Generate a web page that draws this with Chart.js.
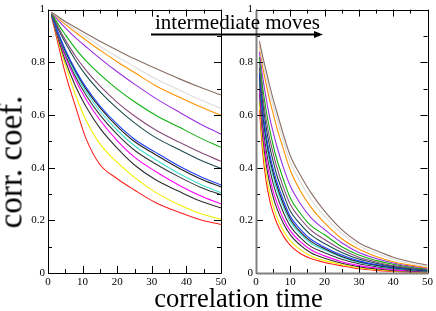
<!DOCTYPE html>
<html lang="en">
<head>
<meta charset="UTF-8">
<title>corr. coef.</title>
<script src="https://cdn.jsdelivr.net/npm/chart.js"></script>
<style>
    body { margin: 0; background: #fff; }
    #wrap { position: relative; width: 436px; height: 311px; overflow: hidden; font-family: "Liberation Serif", serif; color: #000; }
    canvas { position: absolute; left: 0; top: 0; }
    .txt { position: absolute; white-space: nowrap; line-height: 1; }
    #ytitle { font-size: 33px; left: 11px; top: 161.5px; transform: translate(-50%, -50%) rotate(-90deg); }
    #xtitle { font-size: 26.5px; left: 238.5px; top: 284.8px; transform: translateX(-50%); }
    #moves { font-size: 21px; left: 155px; top: 11.5px; }
    #arrow { position: absolute; left: 0; top: 0; }
</style>
</head>
<body>
<div id="wrap">
    <canvas id="leftChart" width="436" height="311"></canvas>
    <canvas id="rightChart" width="436" height="311"></canvas>
    <div class="txt" id="ytitle">corr. coef.</div>
    <div class="txt" id="xtitle">correlation time</div>
    <div class="txt" id="moves">intermediate moves</div>
    <svg id="arrow" width="436" height="311">
        <line x1="151" y1="34.5" x2="316" y2="34.5" stroke="#000" stroke-width="2"/>
        <polygon points="323,34.5 314,31 314,38" fill="#000"/>
    </svg>
</div>

<script>
    // line colours, same order in both panels (top curve first)
    const colors = ['#8b6f66', '#dcdcdc', '#ff9200', '#9b30e0', '#10b010', '#874b7a', '#1b4b4b',
                    '#2040ff', '#202020', '#40e0d0', '#383838', '#ff00ff', '#303030', '#f0f000', '#ff2020'];

    // left panel: correlation time and curves
    const leftT = [1, 3, 5, 8, 11, 15, 20, 25, 31, 38, 44, 50];
    const leftBrown   = [0.99, 0.972, 0.955, 0.932, 0.909, 0.88, 0.846, 0.813, 0.777, 0.737, 0.705, 0.676];
    const leftGrey    = [0.99, 0.969, 0.95, 0.922, 0.896, 0.862, 0.821, 0.783, 0.738, 0.694, 0.658, 0.625];
    const leftOrange  = [0.99, 0.966, 0.944, 0.913, 0.884, 0.846, 0.802, 0.761, 0.712, 0.667, 0.631, 0.599];
    const leftViolet  = [0.988, 0.958, 0.931, 0.893, 0.859, 0.815, 0.764, 0.717, 0.664, 0.61, 0.566, 0.527];
    const leftGreen   = [0.986, 0.943, 0.905, 0.851, 0.805, 0.754, 0.698, 0.65, 0.6, 0.553, 0.513, 0.477];
    const leftMaroon  = [0.985, 0.932, 0.885, 0.822, 0.769, 0.71, 0.648, 0.596, 0.544, 0.496, 0.458, 0.424];
    const leftTeal    = [0.984, 0.925, 0.874, 0.807, 0.75, 0.689, 0.625, 0.57, 0.515, 0.468, 0.429, 0.397];
    const leftBlue    = [0.982, 0.91, 0.848, 0.77, 0.705, 0.635, 0.565, 0.508, 0.459, 0.405, 0.366, 0.334];
    const leftBlack1  = [0.982, 0.908, 0.844, 0.765, 0.698, 0.628, 0.557, 0.499, 0.45, 0.397, 0.358, 0.327];
    const leftCyan    = [0.98, 0.904, 0.838, 0.756, 0.688, 0.615, 0.542, 0.483, 0.431, 0.377, 0.337, 0.305];
    const leftBlack2  = [0.98, 0.899, 0.83, 0.744, 0.675, 0.6, 0.526, 0.466, 0.415, 0.364, 0.326, 0.297];
    const leftMagenta = [0.98, 0.895, 0.822, 0.732, 0.659, 0.581, 0.503, 0.44, 0.386, 0.332, 0.293, 0.262];
    const leftBlack3  = [0.978, 0.887, 0.806, 0.708, 0.631, 0.55, 0.474, 0.41, 0.355, 0.309, 0.273, 0.247];
    const leftYellow  = [0.98, 0.88, 0.79, 0.675, 0.58, 0.49, 0.42, 0.363, 0.307, 0.258, 0.226, 0.204];
    const leftRed     = [0.975, 0.865, 0.758, 0.63, 0.51, 0.412, 0.358, 0.315, 0.268, 0.23, 0.202, 0.184];

    // right panel
    const rightT = [1, 2, 3, 4, 5, 6, 8, 10, 13, 16, 20, 25, 30, 35, 40, 45, 50];
    const rightBrown   = [0.88, 0.82, 0.765, 0.71, 0.66, 0.615, 0.525, 0.445, 0.37, 0.305, 0.235, 0.165, 0.115, 0.085, 0.06, 0.043, 0.03];
    const rightGrey    = [0.87, 0.8, 0.74, 0.685, 0.635, 0.59, 0.5, 0.42, 0.345, 0.28, 0.215, 0.15, 0.103, 0.075, 0.052, 0.036, 0.024];
    const rightOrange  = [0.865, 0.78, 0.715, 0.655, 0.605, 0.555, 0.47, 0.39, 0.31, 0.25, 0.19, 0.13, 0.09, 0.063, 0.043, 0.03, 0.02];
    const rightViolet  = [0.84, 0.74, 0.66, 0.59, 0.535, 0.485, 0.4, 0.33, 0.262, 0.21, 0.165, 0.115, 0.078, 0.055, 0.038, 0.026, 0.018];
    const rightGreen   = [0.82, 0.7, 0.615, 0.545, 0.485, 0.435, 0.355, 0.285, 0.225, 0.18, 0.145, 0.1, 0.068, 0.048, 0.033, 0.022, 0.015];
    const rightMaroon  = [0.8, 0.67, 0.58, 0.51, 0.455, 0.405, 0.325, 0.26, 0.205, 0.163, 0.127, 0.088, 0.06, 0.042, 0.028, 0.02, 0.013];
    const rightTeal    = [0.78, 0.645, 0.55, 0.48, 0.425, 0.375, 0.3, 0.235, 0.185, 0.145, 0.112, 0.078, 0.053, 0.037, 0.025, 0.017, 0.011];
    const rightBlue    = [0.76, 0.615, 0.52, 0.45, 0.395, 0.35, 0.275, 0.215, 0.165, 0.128, 0.098, 0.068, 0.046, 0.032, 0.022, 0.015, 0.01];
    const rightBlack1  = [0.75, 0.6, 0.505, 0.435, 0.38, 0.335, 0.262, 0.205, 0.155, 0.12, 0.092, 0.063, 0.043, 0.03, 0.02, 0.013, 0.008];
    const rightCyan    = [0.74, 0.59, 0.49, 0.42, 0.365, 0.32, 0.25, 0.195, 0.148, 0.113, 0.087, 0.06, 0.04, 0.028, 0.018, 0.012, 0.007];
    const rightBlack2  = [0.72, 0.565, 0.465, 0.395, 0.34, 0.297, 0.23, 0.178, 0.133, 0.1, 0.077, 0.052, 0.035, 0.024, 0.016, 0.01, 0.006];
    const rightMagenta = [0.7, 0.54, 0.435, 0.365, 0.31, 0.27, 0.205, 0.16, 0.118, 0.088, 0.065, 0.043, 0.028, 0.019, 0.012, 0.008, 0.005];
    const rightBlack3  = [0.68, 0.515, 0.41, 0.34, 0.288, 0.248, 0.188, 0.145, 0.105, 0.077, 0.056, 0.037, 0.024, 0.016, 0.01, 0.007, 0.004];
    const rightYellow  = [0.65, 0.48, 0.375, 0.305, 0.255, 0.215, 0.16, 0.122, 0.088, 0.065, 0.047, 0.032, 0.02, 0.013, 0.008, 0.005, 0.003];
    const rightRed     = [0.62, 0.45, 0.345, 0.275, 0.228, 0.192, 0.14, 0.105, 0.073, 0.055, 0.04, 0.027, 0.016, 0.01, 0.006, 0.003, 0.001];

    const leftSeries = [leftBrown, leftGrey, leftOrange, leftViolet, leftGreen, leftMaroon, leftTeal, leftBlue,
                        leftBlack1, leftCyan, leftBlack2, leftMagenta, leftBlack3, leftYellow, leftRed];
    const rightSeries = [rightBrown, rightGrey, rightOrange, rightViolet, rightGreen, rightMaroon, rightTeal, rightBlue,
                         rightBlack1, rightCyan, rightBlack2, rightMagenta, rightBlack3, rightYellow, rightRed];

    const xTicks = [0, 10, 20, 30, 40, 50];
    const yTicks = [0, 0.2, 0.4, 0.6, 0.8, 1];

    // frame with inward ticks on all four sides
    const framePlugin = {
        id: 'frame',
        afterDatasetsDraw(chart, args, opts) {
            const { ctx, chartArea: a, scales: { x, y } } = chart;
            ctx.save();
            ctx.lineWidth = 1;
            ctx.strokeStyle = '#000';
            const seg = (x1, y1, x2, y2) => { ctx.beginPath(); ctx.moveTo(x1, y1); ctx.lineTo(x2, y2); ctx.stroke(); };
            for (let v = 0; v <= 50; v += 5) {
                const px = Math.round(x.getPixelForValue(v)) + 0.5;
                const len = v % 10 === 0 ? 7 : 4;
                seg(px, a.top, px, a.top + len);
                seg(px, a.bottom, px, a.bottom - len);
            }
            for (let i = 0; i <= 10; i++) {
                const py = Math.round(y.getPixelForValue(i / 10)) + 0.5;
                const len = i % 2 === 0 ? 7 : 4;
                seg(a.left, py, a.left + len, py);
                seg(a.right, py, a.right - len, py);
            }
            // border
            const l = Math.round(a.left) + 0.5, r = Math.round(a.right) + 0.5;
            const t = Math.round(a.top) + 0.5, b = Math.round(a.bottom) + 0.5;
            seg(l, t, r, t);
            seg(r, t, r, b);
            ctx.strokeStyle = opts.axisColor || '#000';
            ctx.lineWidth = opts.axisWidth || 1;
            seg(l, t, l, b);
            seg(l, b, r, b);
            ctx.restore();
        }
    };

    function makeSets(ts, series) {
        return series.map((vals, i) => ({
            data: vals.map((v, j) => ({ x: ts[j], y: v })),
            borderColor: colors[i],
            borderWidth: 1.1,
            pointRadius: 0,
            fill: false,
            cubicInterpolationMode: 'monotone'
        }));
    }

    const tickFont = { family: '"Liberation Serif", serif', size: 11 };

    function makeChart(id, ts, series, area, frameOpts) {
        return new Chart(document.getElementById(id), {
            type: 'line',
            data: { datasets: makeSets(ts, series) },
            options: {
                responsive: false,
                animation: false,
                events: [],
                layout: { autoPadding: false, padding: { left: 0, top: area.top, right: 436 - area.right, bottom: 0 } },
                plugins: { legend: { display: false }, tooltip: { enabled: false }, frame: frameOpts },
                scales: {
                    x: {
                        type: 'linear', min: 0, max: 50,
                        grid: { display: false, drawTicks: false },
                        border: { display: false },
                        afterBuildTicks: s => { s.ticks = xTicks.map(v => ({ value: v })); },
                        afterFit: s => { s.height = 311 - area.bottom; },
                        ticks: { font: tickFont, color: '#000', padding: 3, maxRotation: 0, autoSkip: false }
                    },
                    y: {
                        type: 'linear', min: 0, max: 1,
                        grid: { display: false, drawTicks: false },
                        border: { display: false },
                        afterBuildTicks: s => { s.ticks = yTicks.map(v => ({ value: v })); },
                        afterFit: s => { s.width = area.left; },
                        ticks: { font: tickFont, color: '#000', padding: 3, callback: v => String(v) }
                    }
                }
            },
            plugins: [framePlugin]
        });
    }

    makeChart('leftChart', leftT, leftSeries, { left: 48, top: 6, right: 221, bottom: 273 }, {});
    makeChart('rightChart', rightT, rightSeries, { left: 256, top: 5, right: 429, bottom: 273 },
              { axisColor: '#808080', axisWidth: 2 });
</script>
</body>
</html>
